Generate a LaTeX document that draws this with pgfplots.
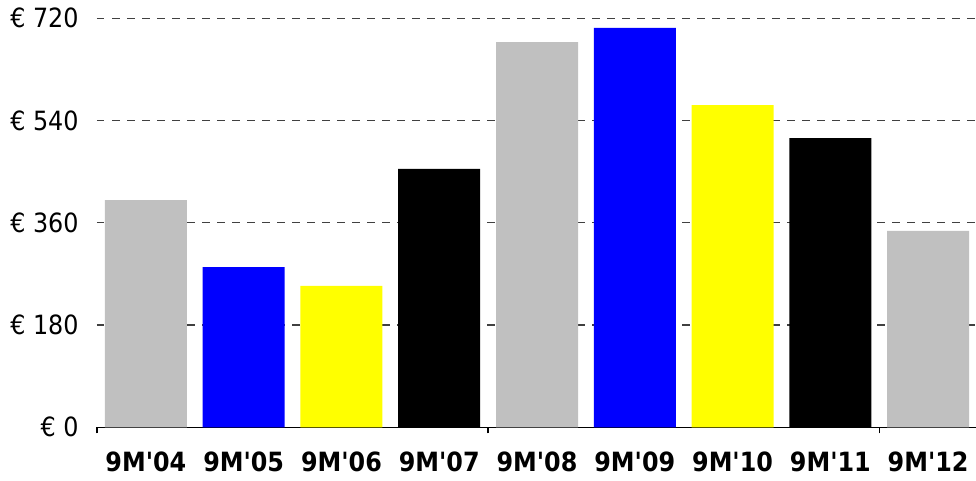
\documentclass[border=0pt]{standalone}
\usepackage{pgfplots}
\pgfplotsset{compat=1.18}
\usepackage{pgfplotstable}
\usepackage{fontspec}
\setmainfont{DejaVu Sans Condensed}
\definecolor{bgray}{RGB}{192,192,192}
\definecolor{bblue}{RGB}{0,0,255}
\definecolor{byellow}{RGB}{255,255,0}
\definecolor{gridc}{RGB}{64,64,64}
\pgfplotstableread{
x v
0 400
4 678
8 346
}\grayset
\pgfplotstableread{
x v
1 282
5 703
}\blueset
\pgfplotstableread{
x v
2 249
6 567
}\yellowset
\pgfplotstableread{
x v
3 455
7 509
}\blackset
\newcommand{\q}{\textquotesingle}
\begin{document}
\begin{tikzpicture}[x=1pt,y=1pt]
\useasboundingbox (0,0) rectangle (976,480);
\begin{axis}[
  at={(97pt,52.7pt)}, anchor=south west,
  scale only axis,
  width=880pt, height=409pt,
  xmin=-0.5, xmax=8.5,
  ymin=0, ymax=720,
  axis x line*=bottom,
  axis y line*=left,
  y axis line style={draw=none},
  x axis line style={black, line width=1.3pt, -},
  xtick={0,...,8},
  xticklabels={9M\q04,9M\q05,9M\q06,9M\q07,9M\q08,9M\q09,9M\q10,9M\q11,9M\q12},
  major x tick style={draw=none},
  minor xtick={-0.5,3.5,7.5},
  minor tick length=6pt,
  minor x tick style={black, line width=1.3pt},
  tick align=outside,
  ytick={0,180,360,540,720},
  yticklabels={€ 0,€ 180,€ 360,€ 540,€ 720},
  major y tick style={draw=none},
  ymajorgrids,
  grid style={gridc, line width=1.3pt, dash pattern=on 7.5pt off 7.5pt},
  xticklabel style={font=\fontsize{26.5}{31}\selectfont\bfseries, anchor=north, inner sep=0pt, yshift=-20pt},
  yticklabel style={font=\fontsize{26.5}{31}\selectfont, anchor=east, inner sep=0pt, xshift=-14pt},
  clip=false,
]
\addplot[ybar, bar width=82pt, draw=none, fill=bgray] table[x=x,y=v] {\grayset};
\addplot[ybar, bar width=82pt, draw=none, fill=bblue] table[x=x,y=v] {\blueset};
\addplot[ybar, bar width=82pt, draw=none, fill=byellow] table[x=x,y=v] {\yellowset};
\addplot[ybar, bar width=82pt, draw=none, fill=black] table[x=x,y=v] {\blackset};
\end{axis}
\end{tikzpicture}
\end{document}
